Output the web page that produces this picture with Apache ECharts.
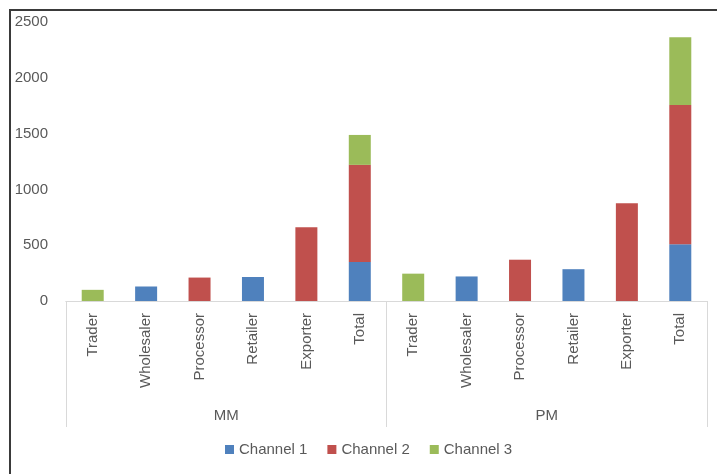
<!DOCTYPE html>
<html>
<head>
<meta charset="utf-8">
<script src="https://cdn.jsdelivr.net/npm/echarts@6/dist/echarts.min.js"></script>
<style>
html, body { margin: 0; padding: 0; background: #fff; }
#chart { width: 717px; height: 474px; }
</style>
</head>
<body>
<div id="chart"></div>
<script>
// categories: two groups, six actors each
var actors = ['Trader', 'Wholesaler', 'Processor', 'Retailer', 'Exporter', 'Total'];
var groups = ['MM', 'PM'];
var categories = actors.concat(actors);

// values ('-' = no bar)
var channel1 = ['-', 130, '-', 215, '-', 350,   '-', 220, '-', 285, '-', 508];
var channel2 = ['-', '-', 210, '-', 660, 870,   '-', '-', 370, '-', 875, 1248];
var channel3 = [100, '-', '-', '-', '-', 268,   245, '-', '-', '-', '-', 607];

var yTicks = [0, 500, 1000, 1500, 2000, 2500];

var labelColor = '#595959';
var lineColor = '#d9d9d9';
var font = 'Liberation Sans';

var chart = echarts.init(document.getElementById('chart'));

chart.setOption({
    animation: false,
    graphic: [{
        type: 'rect',
        shape: { x: 10, y: 10, width: 720, height: 480 },
        style: { fill: 'none', stroke: '#3a3a3a', lineWidth: 2 }
    }],
    grid: { left: 66, right: 10, top: 22, bottom: 173 },
    legend: {
        bottom: 12,
        left: 220,
        itemWidth: 9,
        itemHeight: 9,
        itemGap: 20,
        icon: 'rect',
        textStyle: { color: labelColor, fontSize: 15, fontFamily: font },
        data: ['Channel 1', 'Channel 2', 'Channel 3']
    },
    xAxis: [{
        type: 'category',
        data: categories,
        axisLine: { lineStyle: { color: lineColor } },
        axisTick: { show: false },
        axisLabel: {
            interval: 0,
            rotate: 90,
            margin: 12,
            color: labelColor,
            fontSize: 15,
            fontFamily: font
        }
    }, {
        type: 'category',
        data: groups,
        position: 'bottom',
        axisLine: { lineStyle: { color: lineColor } },
        axisTick: { show: true, length: 126, lineStyle: { color: lineColor } },
        axisLabel: {
            margin: 107,
            color: labelColor,
            fontSize: 15,
            fontFamily: font
        }
    }],
    yAxis: {
        type: 'value',
        min: yTicks[0],
        max: yTicks[yTicks.length - 1],
        interval: 500,
        splitLine: { show: false },
        axisLine: { show: false },
        axisTick: { show: false },
        axisLabel: {
            color: labelColor,
            fontSize: 15,
            fontFamily: font,
            margin: 18,
            formatter: function (v) { return String(v); }
        }
    },
    series: [
        { name: 'Channel 1', type: 'bar', stack: 'all', barWidth: 22, data: channel1, itemStyle: { color: '#4f81bd' } },
        { name: 'Channel 2', type: 'bar', stack: 'all', barWidth: 22, data: channel2, itemStyle: { color: '#c0504d' } },
        { name: 'Channel 3', type: 'bar', stack: 'all', barWidth: 22, data: channel3, itemStyle: { color: '#9bbb59' } }
    ]
});
</script>
</body>
</html>
